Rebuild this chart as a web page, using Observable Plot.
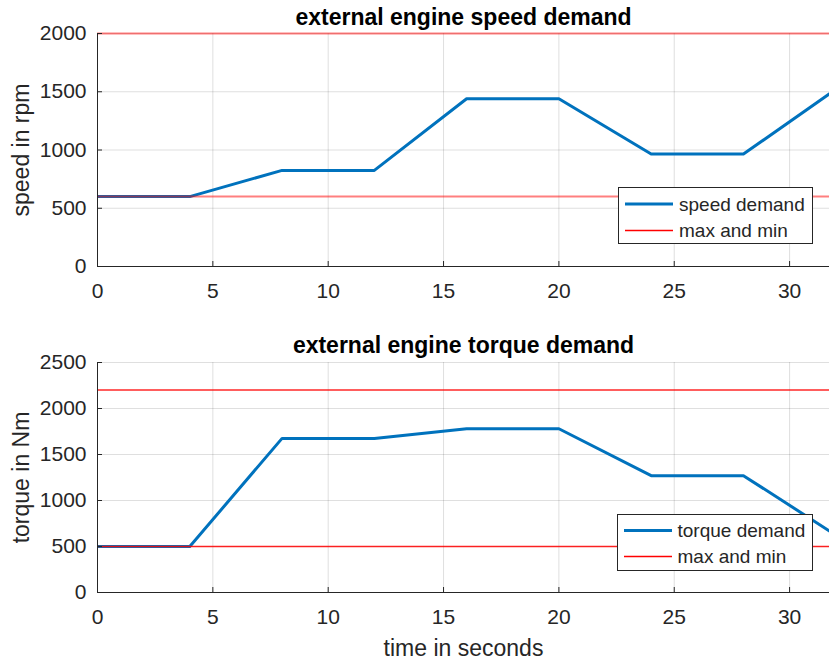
<!DOCTYPE html>
<html>
<head>
<meta charset="utf-8">
<script src="https://cdn.jsdelivr.net/npm/d3@7"></script>
<script src="https://cdn.jsdelivr.net/npm/@observablehq/plot@0.6"></script>
<style>
  body { margin: 0; background: #fff; }
  #wrap { position: relative; width: 829px; height: 662px; overflow: hidden; font-family: "Liberation Sans", Arial, Helvetica, sans-serif; }
  #wrap svg { display: block; }
  .legend { position: absolute; background: #fff; border: 1px solid #262626; box-sizing: border-box; }
  .legend svg { position: absolute; left: 0; top: 0; }
</style>
</head>
<body>
<div id="wrap"></div>
<script>
// ---- data ----
const time = [0, 4, 8, 12, 16, 20, 24, 28, 32];
const speed = [600, 600, 825, 825, 1440, 1440, 965, 965, 1520];
const torque = [500, 500, 1675, 1675, 1780, 1780, 1270, 1270, 625];
const speedLimits = [600, 2000];
const torqueLimits = [500, 2200];
const xTicks = [0, 5, 10, 15, 20, 25, 30];
const speedTicks = [0, 500, 1000, 1500, 2000];
const torqueTicks = [0, 500, 1000, 1500, 2000, 2500];
const xDomain = [0, 31.73];

const FONT = '"Liberation Sans", Arial, Helvetica, sans-serif';
const AX = "#262626";
const BLUE = "#0072BD";
const W = 829, ML = 97, MR = 0;
const fmt = d => String(d);

function panel(o) {
  const data = time.map((t, i) => ({t, v: o.values[i]}));
  const frameH = o.height - o.marginTop - o.marginBottom;
  const frameW = W - ML - MR;
  const marks = [
    Plot.gridX(xTicks.filter(d => d > 0), {stroke: AX, strokeOpacity: 0.15, strokeWidth: 1}),
    Plot.gridY(o.yTicks, {stroke: AX, strokeOpacity: 0.15, strokeWidth: 1}),
    Plot.line(data, {x: "t", y: "v", stroke: BLUE, strokeWidth: 3, clip: true}),
    Plot.ruleY(o.limits, {stroke: "red", strokeWidth: o.redWidth, strokeOpacity: o.redOpacity}),
    Plot.ruleX([xDomain[0]], {stroke: AX, strokeWidth: 1}),
    Plot.ruleY([o.yDomain[0]], {stroke: AX, strokeWidth: 1}),
    Plot.tickX(xTicks, {x: d => d, stroke: AX, insetTop: frameH - 5}),
    Plot.tickY(o.yTicks, {y: d => d, stroke: AX, insetRight: frameW - 5}),
    Plot.axisX(xTicks, {tickSize: 0, tickPadding: 17, fontSize: 21, fill: AX, label: null, tickFormat: fmt}),
    Plot.axisY(o.yTicks, {tickSize: 0, tickPadding: 11, fontSize: 21, fill: AX, label: null, tickFormat: fmt}),
    Plot.text([o.title], {frameAnchor: "top", textAnchor: "middle", lineAnchor: "bottom", dy: o.titleDy, fontSize: 23, fontWeight: "bold", fill: "#000"}),
    Plot.text([o.ylabel], {frameAnchor: "left", textAnchor: "middle", lineAnchor: "middle", rotate: -90, dx: -76, fontSize: 23, fill: AX})
  ];
  if (o.xlabel) {
    marks.push(Plot.text([o.xlabel], {frameAnchor: "bottom", textAnchor: "middle", lineAnchor: "middle", dy: 56, fontSize: 23, fill: AX}));
  }
  return Plot.plot({
    width: W, height: o.height,
    marginLeft: ML, marginRight: MR, marginTop: o.marginTop, marginBottom: o.marginBottom,
    style: {fontFamily: FONT, background: "#fff", color: AX, overflow: "visible"},
    x: {domain: xDomain, label: null},
    y: {domain: o.yDomain, label: null},
    marks
  });
}

const wrap = document.getElementById("wrap");
wrap.appendChild(panel({
  values: speed, limits: speedLimits, yTicks: speedTicks, yDomain: [0, 2000],
  height: 320, marginTop: 33, marginBottom: 54, titleDy: -9,
  title: "external engine speed demand", ylabel: "speed in rpm",
  redWidth: 2, redOpacity: 0.5
}));
wrap.appendChild(panel({
  values: torque, limits: torqueLimits, yTicks: torqueTicks, yDomain: [0, 2500],
  height: 342, marginTop: 42, marginBottom: 70, titleDy: -10,
  title: "external engine torque demand", ylabel: "torque in Nm", xlabel: "time in seconds",
  redWidth: 1.5, redOpacity: 0.85
}));

function legend(left, top, w, h, label1, textX, y1, y2) {
  const div = document.createElement("div");
  div.className = "legend";
  Object.assign(div.style, {left: left + "px", top: top + "px", width: w + "px", height: h + "px"});
  const svg = d3.create("svg").attr("width", w).attr("height", h)
    .style("font-family", FONT).style("font-size", "19px");
  svg.append("line").attr("x1", 6).attr("x2", 54).attr("y1", y1).attr("y2", y1)
    .attr("stroke", BLUE).attr("stroke-width", 3);
  svg.append("line").attr("x1", 6).attr("x2", 54).attr("y1", y2).attr("y2", y2)
    .attr("stroke", "red").attr("stroke-width", 1.5);
  svg.append("text").attr("x", textX).attr("y", y1).attr("dy", "0.35em").attr("fill", AX).text(label1);
  svg.append("text").attr("x", textX).attr("y", y2).attr("dy", "0.35em").attr("fill", AX).text("max and min");
  div.appendChild(svg.node());
  wrap.appendChild(div);
}
legend(617.5, 186.5, 195.5, 57, "speed demand", 60, 16, 42.5);
legend(616.5, 513.5, 196, 57, "torque demand", 59.5, 15.5, 41.5);
</script>
</body>
</html>
